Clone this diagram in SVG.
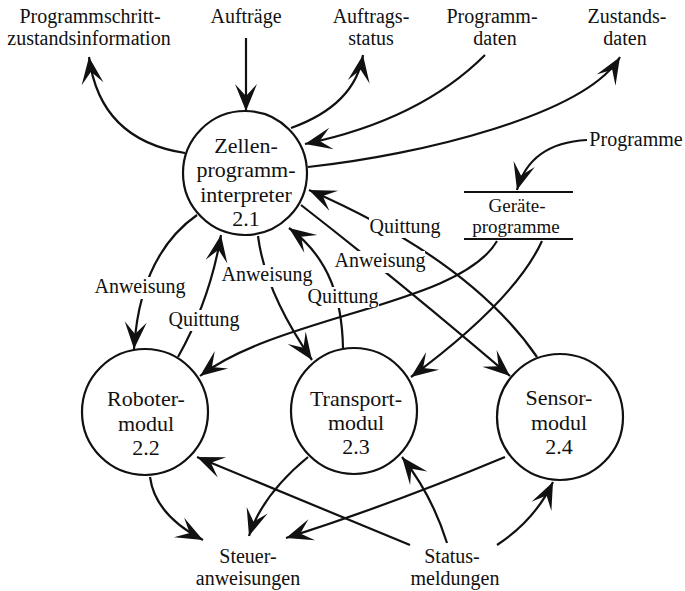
<svg xmlns="http://www.w3.org/2000/svg" width="685" height="591" viewBox="0 0 685 591">
  <style>
    text { font-family: "Liberation Serif", "Times New Roman", serif; fill: #111; text-anchor: middle; }
    .t19 { font-size: 19px; }
    .t20 { font-size: 20px; }
    .t22 { font-size: 22px; }
    .proc { fill: #fff; stroke: #111; stroke-width: 2.2; }
    .store { stroke: #111; stroke-width: 2.2; }
    .flow { fill: none; stroke: #111; stroke-width: 2.2; marker-end: url(#ah); }
    .bg { fill: #fff; stroke: none; }
  </style>
  <defs>
    <marker id="ah" viewBox="0 0 30 24" markerWidth="30" markerHeight="24" refX="28" refY="12" orient="auto" markerUnits="userSpaceOnUse">
      <path d="M28,12 L1,1 L13,12 L1,23 Z" fill="#111"/>
    </marker>
  </defs>

  <rect width="685" height="591" fill="#fff"/>

  <!-- data flows -->
  <g id="connectors">
    <path class="flow" d="M185,153 Q100,140 89,57"/>
    <path class="flow" d="M246,38 L246,111"/>
    <path class="flow" d="M291,128 Q355,105 363,55"/>
    <path class="flow" d="M485,55 Q420,120 305,144"/>
    <path class="flow" d="M308,167 C420,155 585,115 620,57"/>
    <path class="flow" d="M587,140 Q530,143 517,190"/>
    <path class="flow" d="M537,357 Q470,260 309,190"/>
    <path class="flow" d="M301,205 Q400,282 510,376"/>
    <path class="flow" d="M497,241 C460,305 280,315 200,376"/>
    <path class="flow" d="M542,241 Q515,300 411,377"/>
    <path class="flow" d="M197,215 Q140,255 134,349"/>
    <path class="flow" d="M178,357 Q210,300 221,235"/>
    <path class="flow" d="M258,236 Q265,292 312,360"/>
    <path class="flow" d="M343,348 C342,300 330,258 289,228"/>
    <path class="flow" d="M150,477 Q155,515 203,540"/>
    <path class="flow" d="M308,457 Q262,495 249,536"/>
    <path class="flow" d="M505,457 Q390,505 286,538"/>
    <path class="flow" d="M410,545 L197,457"/>
    <path class="flow" d="M447,543 Q432,495 402,457"/>
    <path class="flow" d="M497,545 Q535,520 553,482"/>
  </g>

  <!-- flow labels -->
  <g id="flow-labels" class="t20">
    <rect class="bg" x="94" y="277" width="92" height="22"/>
    <text x="140" y="293">Anweisung</text>
    <rect class="bg" x="168" y="310" width="72" height="21"/>
    <text x="204" y="326">Quittung</text>
    <rect class="bg" x="222" y="265" width="90" height="22"/>
    <text x="267" y="281">Anweisung</text>
    <rect class="bg" x="307" y="287" width="72" height="21"/>
    <text x="343" y="303">Quittung</text>
    <rect class="bg" x="335" y="251" width="90" height="22"/>
    <text x="380" y="267">Anweisung</text>
    <rect class="bg" x="369" y="217" width="72" height="21"/>
    <text x="405" y="233">Quittung</text>
  </g>

  <!-- processes -->
  <g id="p21">
    <circle class="proc" cx="245" cy="173" r="62"/>
    <text class="t22" x="246" y="153">Zellen-</text>
    <text class="t22" x="246" y="177">programm-</text>
    <text class="t22" x="246" y="202">interpreter</text>
    <text class="t22" x="246" y="226">2.1</text>
  </g>
  <g id="p22">
    <circle class="proc" cx="145" cy="412" r="63"/>
    <text class="t22" x="146" y="406">Roboter-</text>
    <text class="t22" x="146" y="431">modul</text>
    <text class="t22" x="146" y="455">2.2</text>
  </g>
  <g id="p23">
    <circle class="proc" cx="354" cy="411" r="63"/>
    <text class="t22" x="356" y="406">Transport-</text>
    <text class="t22" x="356" y="430">modul</text>
    <text class="t22" x="356" y="454">2.3</text>
  </g>
  <g id="p24">
    <circle class="proc" cx="560" cy="417" r="63"/>
    <text class="t22" x="559" y="405">Sensor-</text>
    <text class="t22" x="559" y="430">modul</text>
    <text class="t22" x="559" y="454">2.4</text>
  </g>

  <!-- data store -->
  <g id="store-geraeteprogramme">
    <line class="store" x1="464" y1="192" x2="573" y2="192"/>
    <line class="store" x1="464" y1="239" x2="573" y2="239"/>
    <text class="t19" x="517" y="212">Geräte-</text>
    <text class="t19" x="516" y="233">programme</text>
  </g>

  <!-- external flows / terminators -->
  <g id="ext-programmschritt" class="t20">
    <text x="90" y="23">Programmschritt-</text>
    <text x="89" y="45">zustandsinformation</text>
  </g>
  <g id="ext-auftraege" class="t20">
    <text x="246" y="23">Aufträge</text>
  </g>
  <g id="ext-auftragsstatus" class="t20">
    <text x="371" y="23">Auftrags-</text>
    <text x="371" y="45">status</text>
  </g>
  <g id="ext-programmdaten" class="t20">
    <text x="492" y="23">Programm-</text>
    <text x="495" y="45">daten</text>
  </g>
  <g id="ext-zustandsdaten" class="t20">
    <text x="627" y="23">Zustands-</text>
    <text x="625" y="45">daten</text>
  </g>
  <g id="ext-programme" class="t20">
    <text x="636" y="146">Programme</text>
  </g>
  <g id="ext-steueranweisungen" class="t20">
    <text x="248" y="563">Steuer-</text>
    <text x="248" y="585">anweisungen</text>
  </g>
  <g id="ext-statusmeldungen" class="t20">
    <text x="452" y="563">Status-</text>
    <text x="455" y="585">meldungen</text>
  </g>
</svg>
